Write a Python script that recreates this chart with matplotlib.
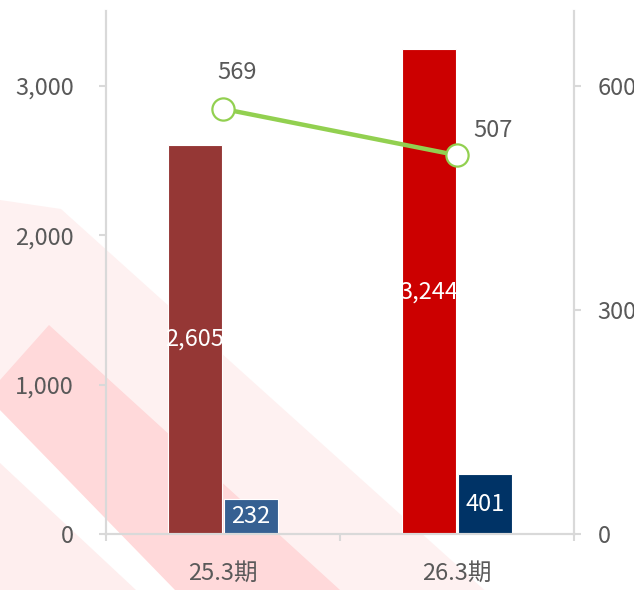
import numpy as np
import matplotlib
matplotlib.use("Agg")
import matplotlib.pyplot as plt
from matplotlib.patches import Polygon

plt.rcParams['font.family'] = ['Noto Sans CJK JP', 'DejaVu Sans']

# data
periods = ['25.3期', '26.3期']
sales = [2605, 3244]
profit = [232, 401]
employees = [569, 507]
sales_colors = ['#953735', '#CC0000']
profit_colors = ['#366092', '#003366']

W, H = 634, 590
grey = '#595959'
spine_c = '#D9D9D9'


def px_poly(points, color):
    # points in figure pixels (y measured from top)
    pts = [(x / W, 1 - y / H) for x, y in points]
    return Polygon(pts, closed=True, transform=fig.transFigure,
                   facecolor=color, edgecolor='none', zorder=-10)


fig = plt.figure(figsize=(W / 100, H / 100), dpi=100)

# decorative stripes in the lower left
fig.patches.append(px_poly([(0, 200), (61, 209), (700, 784), (700, 1000), (0, 410)], '#FEF1F1'))
fig.patches.append(px_poly([(0, 380), (49, 325), (340, 590), (175, 590), (0, 410)], '#FFD9DA'))
fig.patches.append(px_poly([(0, 463), (136, 590), (0, 590)], '#FEEEEE'))

ax = fig.add_axes([106 / W, 1 - 534 / H, 468 / W, 523 / H])
ax.set_facecolor('none')
ax2 = ax.twinx()
ax2.set_facecolor('none')

x = np.arange(len(periods))
bw = 0.23
off = 0.12
b1 = ax.bar(x - off, sales, bw, color=sales_colors, edgecolor='white', linewidth=0.8, zorder=2)
b2 = ax.bar(x + off, profit, bw, color=profit_colors, edgecolor='white', linewidth=0.8, zorder=2)

for rect, v in zip(b1, sales):
    ax.text(rect.get_x() + rect.get_width() / 2, v / 2, f'{v:,}', ha='center', va='center',
            color='white', fontsize=17, zorder=3)
for rect, v in zip(b2, profit):
    ax.text(rect.get_x() + rect.get_width() / 2, v / 2, f'{v:,}', ha='center', va='center',
            color='white', fontsize=17, zorder=3)

ax.set_xlim(-0.5, 1.5)
ax.set_ylim(0, 3500)
ax.set_yticks([0, 1000, 2000, 3000])
ax.set_yticklabels([f'{t:,}' for t in [0, 1000, 2000, 3000]])
ax.set_xticks(x)
ax.set_xticklabels(periods)
ax.set_xticks([-0.5, 0.5, 1.5], minor=True)
ax.tick_params(axis='x', which='major', length=0, pad=20, labelsize=17, labelcolor=grey)
ax.tick_params(axis='x', which='minor', length=5, width=1.5, color=spine_c, direction='out')
ax.tick_params(axis='y', length=5, width=1.5, color=spine_c, pad=18, labelsize=17, labelcolor=grey)

ax2.plot(x, employees, color='#92D050', linewidth=3.2, marker='o', markersize=16,
         markerfacecolor='white', markeredgecolor='#92D050', markeredgewidth=1.6, zorder=5)
ax2.set_ylim(0, 700)
ax2.set_yticks([0, 300, 600])
ax2.tick_params(axis='y', length=5, width=1.5, color=spine_c, pad=12, labelsize=17, labelcolor=grey)
ax2.annotate(f'{employees[0]}', (x[0], employees[0]), xytext=(10, 26), textcoords='offset points',
             ha='center', va='center', color=grey, fontsize=17)
ax2.annotate(f'{employees[1]}', (x[1], employees[1]), xytext=(26, 18), textcoords='offset points',
             ha='center', va='center', color=grey, fontsize=17)

for a in (ax, ax2):
    a.spines['top'].set_visible(False)
    for s in ('left', 'right', 'bottom'):
        a.spines[s].set_color(spine_c)
        a.spines[s].set_linewidth(1.5)

fig.savefig('out.png', dpi=100)
